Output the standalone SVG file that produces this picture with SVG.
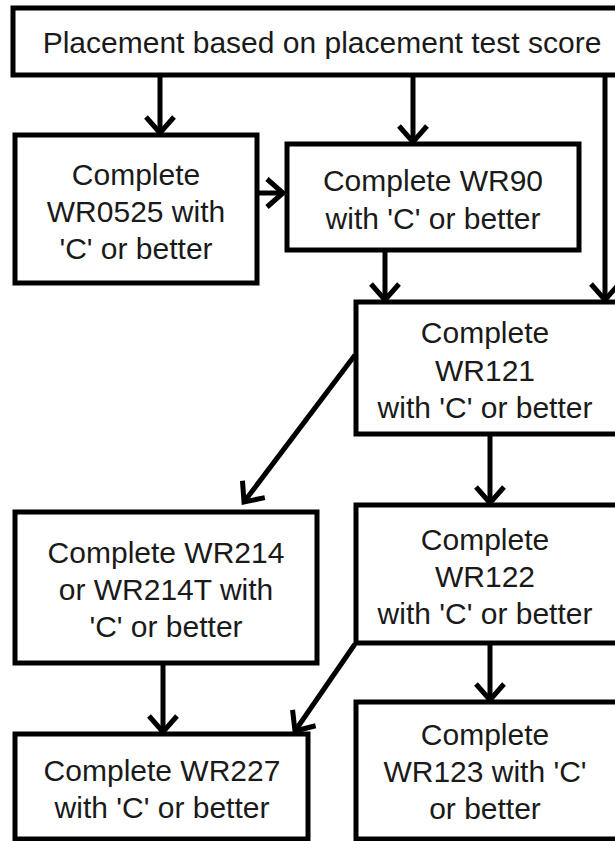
<svg xmlns="http://www.w3.org/2000/svg" width="615" height="841" viewBox="0 0 615 841">
<style>
.box{fill:#fff;stroke:#000;stroke-width:5}
.t{font-family:"Liberation Sans",Arial,sans-serif;font-size:30px;fill:#1a1a1a;text-anchor:middle}
.c{fill:none;stroke:#000;stroke-width:5}
</style>
<defs>
<marker id="ah" markerUnits="userSpaceOnUse" markerWidth="40" markerHeight="40" viewBox="-20 -20 40 40" refX="0" refY="0" orient="auto" overflow="visible">
<path d="M-16,-14 L0,0 L-16,14" fill="none" stroke="#000" stroke-width="5"/>
</marker>
</defs>
<g id="n-placement">
<rect class="box" x="13" y="8" width="630" height="67"/>
<text class="t" x="322" y="53">Placement based on placement test score</text>
</g>
<g id="n-wr0525">
<rect class="box" x="15" y="135" width="242" height="148"/>
<text class="t" x="136" y="185">Complete</text>
<text class="t" x="136" y="222">WR0525 with</text>
<text class="t" x="136" y="259">'C' or better</text>
</g>
<g id="n-wr90">
<rect class="box" x="287" y="144" width="292" height="106"/>
<text class="t" x="433" y="191">Complete WR90</text>
<text class="t" x="433" y="229">with 'C' or better</text>
</g>
<g id="n-wr121">
<rect class="box" x="356" y="302" width="280" height="132"/>
<text class="t" x="485" y="343">Complete</text>
<text class="t" x="485" y="381">WR121</text>
<text class="t" x="485" y="418">with 'C' or better</text>
</g>
<g id="n-wr214">
<rect class="box" x="15" y="512" width="302" height="151"/>
<text class="t" x="166" y="563">Complete WR214</text>
<text class="t" x="166" y="600">or WR214T with</text>
<text class="t" x="166" y="637">'C' or better</text>
</g>
<g id="n-wr122">
<rect class="box" x="356" y="505" width="280" height="138"/>
<text class="t" x="485" y="550">Complete</text>
<text class="t" x="485" y="587">WR122</text>
<text class="t" x="485" y="624">with 'C' or better</text>
</g>
<g id="n-wr227">
<rect class="box" x="15" y="734" width="293" height="105"/>
<text class="t" x="162" y="781">Complete WR227</text>
<text class="t" x="162" y="818">with 'C' or better</text>
</g>
<g id="n-wr123">
<rect class="box" x="356" y="702" width="280" height="137"/>
<text class="t" x="485" y="745">Complete</text>
<text class="t" x="485" y="782">WR123 with 'C'</text>
<text class="t" x="485" y="819">or better</text>
</g>
<g id="connectors">
<line class="c" x1="160" y1="77" x2="160" y2="133" marker-end="url(#ah)"/>
<line class="c" x1="413" y1="77" x2="413" y2="142" marker-end="url(#ah)"/>
<line class="c" x1="605" y1="77" x2="605" y2="300" marker-end="url(#ah)"/>
<line class="c" x1="259" y1="193" x2="283" y2="193" marker-end="url(#ah)"/>
<line class="c" x1="385" y1="252" x2="385" y2="300" marker-end="url(#ah)"/>
<line class="c" x1="355" y1="355" x2="244" y2="502" marker-end="url(#ah)"/>
<line class="c" x1="490" y1="436" x2="490" y2="503" marker-end="url(#ah)"/>
<line class="c" x1="163" y1="665" x2="163" y2="732" marker-end="url(#ah)"/>
<line class="c" x1="355" y1="644" x2="295" y2="731" marker-end="url(#ah)"/>
<line class="c" x1="490" y1="645" x2="490" y2="700" marker-end="url(#ah)"/>
</g>
</svg>
